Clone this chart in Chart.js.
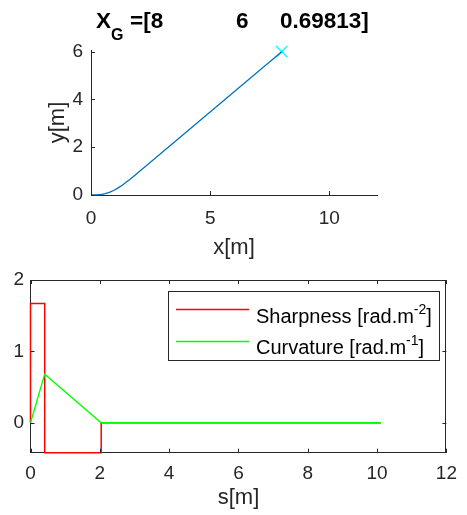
<!DOCTYPE html>
<html>
<head>
<meta charset="utf-8">
<script src="https://cdn.jsdelivr.net/npm/chart.js@4.4.1/dist/chart.umd.min.js"></script>
<style>
  body { margin: 0; background: #fff; }
  canvas { position: absolute; left: 0; top: 0; }
</style>
</head>
<body>
<canvas id="trayectoria" width="467" height="515"></canvas>
<canvas id="perfil" width="467" height="515"></canvas>
<script>
// path in the plane (clothoid then straight segment)
const pathX = [0, 0.2, 0.41, 0.6, 0.79, 0.97, 1.14, 1.31, 1.47, 1.63, 1.82, 8];
const pathY = [0, 0.002, 0.02, 0.06, 0.12, 0.2, 0.3, 0.41, 0.53, 0.65, 0.81, 6];
const goalX = [8];
const goalY = [6];
const goalText = ['8', '6', '0.69813'];

// sharpness / curvature along s
const sharpS = [0, 0, 0.41, 0.41, 2.04, 2.04, 10.11];
const sharpV = [0, 1.67, 1.67, -0.42, -0.42, 0, 0];
const curvS = [0, 0.41, 2.04, 10.11];
const curvV = [0, 0.68, 0, 0];

const topXTicks = [0, 5, 10];
const topYTicks = [0, 2, 4, 6];
const botXTicks = [0, 2, 4, 6, 8, 10, 12];
const botYTicks = [0, 1, 2];

const GRIS = '#262626';
const FUENTE = "'Liberation Sans', Arial, sans-serif";
Chart.defaults.font.family = FUENTE;
Chart.defaults.color = GRIS;

const puntos = (xs, ys) => xs.map((v, i) => ({ x: v, y: ys[i] }));
const fijarTicks = (lista) => (scale) => { scale.ticks = lista.map(v => ({ value: v })); };

// text with super/subscripts: parts = [{t, dy, size}]
function textoRico(ctx, parts, x, y, bold) {
    let cx = x;
    parts.forEach(p => {
        ctx.font = (bold ? 'bold ' : '') + p.size + 'px ' + FUENTE;
        ctx.fillText(p.t, cx, y + (p.dy || 0));
        cx += ctx.measureText(p.t).width;
    });
}

// inward ticks, optional full box
const marcas = {
    id: 'marcas',
    afterDatasetsDraw(chart, args, opts) {
        const { ctx, chartArea: a, scales: { x, y } } = chart;
        const L = 4;
        ctx.save();
        ctx.strokeStyle = GRIS;
        ctx.lineWidth = 1;
        ctx.beginPath();
        x.ticks.forEach(t => {
            const px = Math.round(x.getPixelForValue(t.value)) + 0.5;
            ctx.moveTo(px, a.bottom); ctx.lineTo(px, a.bottom - L);
            if (opts.caja) { ctx.moveTo(px, a.top); ctx.lineTo(px, a.top + L); }
        });
        y.ticks.forEach(t => {
            const py = Math.round(y.getPixelForValue(t.value)) + 0.5;
            ctx.moveTo(a.left, py); ctx.lineTo(a.left + L, py);
            if (opts.caja) { ctx.moveTo(a.right, py); ctx.lineTo(a.right - L, py); }
        });
        if (opts.caja) {
            const t = Math.round(a.top) + 0.5, r = Math.round(a.right) - 0.5;
            ctx.moveTo(a.left, t); ctx.lineTo(r, t); ctx.lineTo(r, a.bottom);
        }
        ctx.stroke();
        ctx.restore();
    }
};

// title X_G =[8  6  0.69813]
const titulo = {
    id: 'titulo',
    afterDraw(chart) {
        const ctx = chart.ctx;
        ctx.save();
        ctx.fillStyle = '#000';
        ctx.textBaseline = 'alphabetic';
        ctx.textAlign = 'left';
        textoRico(ctx, [{ t: 'X', size: 22.5 }, { t: 'G', size: 16, dy: 12 }], 96, 28, true);
        ctx.font = 'bold 22.5px ' + FUENTE;
        ctx.fillText('=[' + goalText[0], 130, 28);
        ctx.fillText(goalText[1], 236, 28);
        ctx.fillText(goalText[2] + ']', 280, 28);
        ctx.restore();
    }
};

// legend box with exponents
const leyenda = {
    id: 'leyenda',
    afterDraw(chart) {
        const ctx = chart.ctx;
        const items = [
            { color: '#ff0000', parts: [{ t: 'Sharpness [rad.m', size: 20 }, { t: '-2', size: 14, dy: -9 }, { t: ']', size: 20 }] },
            { color: '#00ff00', parts: [{ t: 'Curvature [rad.m', size: 20 }, { t: '-1', size: 14, dy: -9 }, { t: ']', size: 20 }] }
        ];
        ctx.save();
        ctx.fillStyle = '#fff';
        ctx.fillRect(168, 291, 271, 69);
        ctx.strokeStyle = GRIS;
        ctx.lineWidth = 1;
        ctx.strokeRect(168.5, 291.5, 271, 69);
        items.forEach((it, i) => {
            const ly = 309.5 + i * 32;
            ctx.strokeStyle = it.color;
            ctx.lineWidth = 1.3;
            ctx.beginPath();
            ctx.moveTo(176, ly); ctx.lineTo(249, ly);
            ctx.stroke();
            ctx.fillStyle = '#000';
            ctx.textBaseline = 'alphabetic';
            textoRico(ctx, it.parts, 256, 322.5 + i * 31, false);
        });
        ctx.restore();
    }
};

new Chart(document.getElementById('trayectoria'), {
    type: 'scatter',
    data: {
        datasets: [
            {
                data: puntos(pathX, pathY),
                showLine: true,
                borderColor: 'rgb(0,114,189)',
                borderWidth: 1.3,
                pointRadius: 0,
                tension: 0,
                clip: false
            },
            {
                data: puntos(goalX, goalY),
                pointStyle: 'crossRot',
                pointRadius: 8,
                borderColor: '#00ffff',
                borderWidth: 1.3,
                clip: false
            }
        ]
    },
    options: {
        responsive: false,
        animation: false,
        events: [],
        layout: { padding: { top: 50, right: 90, left: 0, bottom: 253 } },
        plugins: { legend: { display: false }, tooltip: { enabled: false }, marcas: { caja: false } },
        scales: {
            x: {
                type: 'linear', min: 0, max: 12,
                afterBuildTicks: fijarTicks(topXTicks),
                afterFit: (s) => { s.height = 67; },
                grid: { display: false, drawTicks: false },
                border: { color: GRIS, width: 1 },
                ticks: { font: { size: 19 }, padding: 12, maxRotation: 0 },
                title: { display: true, text: 'x[m]', font: { size: 22 }, padding: { top: 0, bottom: 1 } }
            },
            y: {
                type: 'linear', min: 0, max: 6.07,
                afterBuildTicks: fijarTicks(topYTicks),
                afterFit: (s) => { s.width = 91; },
                grid: { display: false, drawTicks: false },
                border: { color: GRIS, width: 1 },
                ticks: { font: { size: 19 }, padding: 8 },
                title: { display: true, text: 'y[m]', font: { size: 22 }, padding: { top: 45, bottom: 0 } }
            }
        }
    },
    plugins: [marcas, titulo]
});

new Chart(document.getElementById('perfil'), {
    type: 'scatter',
    data: {
        datasets: [
            {
                label: 'Sharpness',
                data: puntos(sharpS, sharpV),
                showLine: true,
                borderColor: '#ff0000',
                borderWidth: 1.5,
                pointRadius: 0,
                tension: 0,
                clip: false,
                order: 1
            },
            {
                label: 'Curvature',
                data: puntos(curvS, curvV),
                showLine: true,
                borderColor: '#00ff00',
                borderWidth: 1.3,
                pointRadius: 0,
                tension: 0,
                clip: false,
                order: 0
            }
        ]
    },
    options: {
        responsive: false,
        animation: false,
        events: [],
        layout: { padding: { top: 280, right: 12, left: 0, bottom: 0 } },
        plugins: { legend: { display: false }, tooltip: { enabled: false }, marcas: { caja: true } },
        scales: {
            x: {
                type: 'linear', min: 0, max: 12,
                afterBuildTicks: fijarTicks(botXTicks),
                afterFit: (s) => { s.height = 62.3; },
                grid: { display: false, drawTicks: false },
                border: { color: GRIS, width: 1 },
                ticks: { font: { size: 19 }, padding: 10, maxRotation: 0 },
                title: { display: true, text: 's[m]', font: { size: 22 }, padding: { top: 0, bottom: 3.5 } }
            },
            y: {
                type: 'linear', min: -0.42, max: 2,
                afterBuildTicks: fijarTicks(botYTicks),
                afterFit: (s) => { s.width = 30.5; },
                grid: { display: false, drawTicks: false },
                border: { color: GRIS, width: 1 },
                ticks: { font: { size: 19 }, padding: 6.5 }
            }
        }
    },
    plugins: [marcas, leyenda]
});
</script>
</body>
</html>
